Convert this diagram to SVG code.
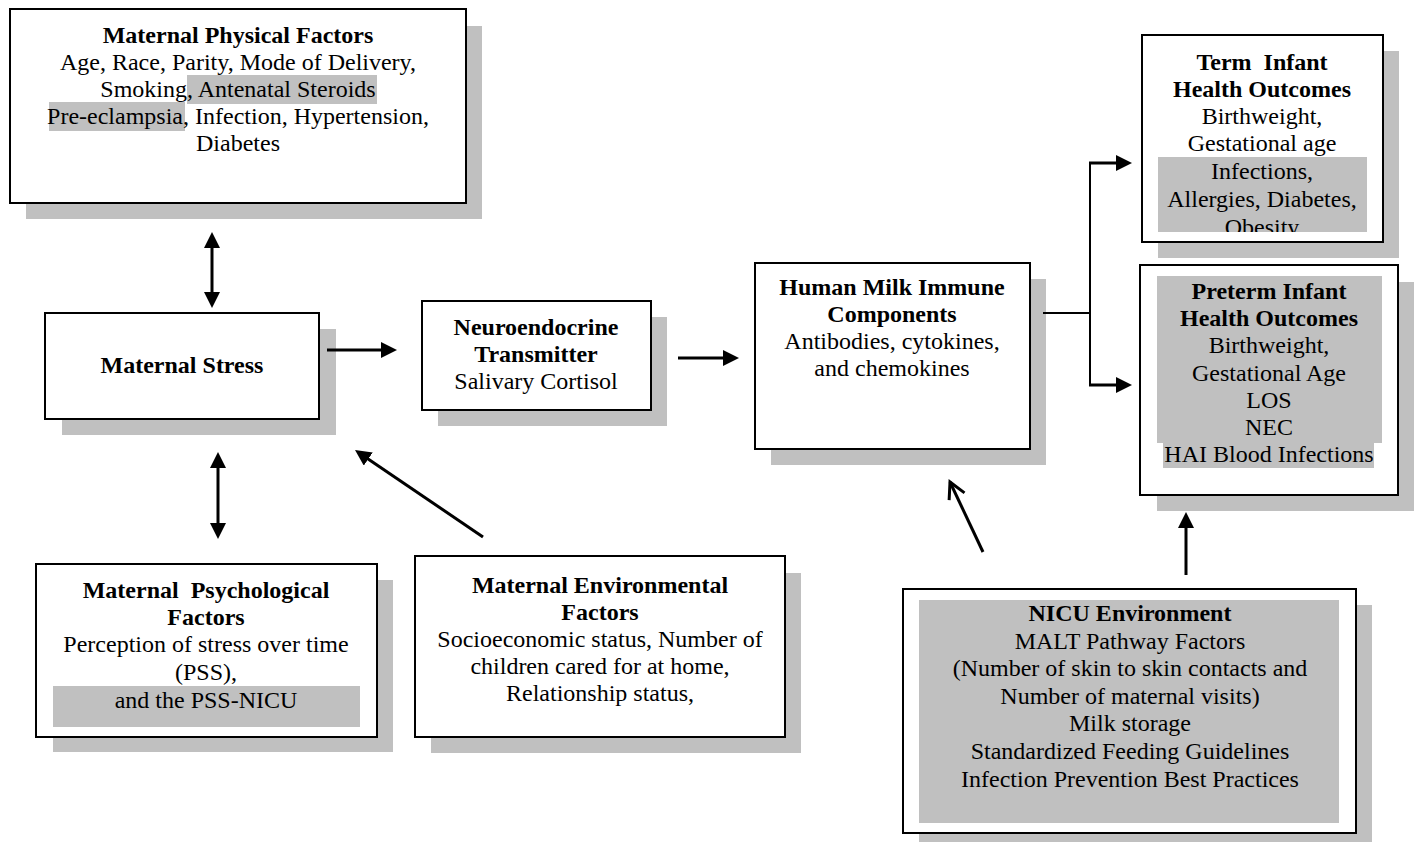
<svg xmlns="http://www.w3.org/2000/svg" width="1416" height="842" viewBox="0 0 1416 842">
  <style>
    .shadow { fill: #c0c0c0; }
    .box { fill: #ffffff; stroke: #000000; stroke-width: 2; }
    .hl { fill: #c0c0c0; }
    .t { font-family: "Liberation Serif", "Times New Roman", serif; font-size: 24px; text-anchor: middle; fill: #000000; white-space: pre; }
    .b { font-weight: bold; }
    .arrow { stroke: #000000; stroke-width: 3; fill: none; }
    .link { stroke: #000000; stroke-width: 2; fill: none; }
  </style>
  <defs>
    <marker id="head" viewBox="0 0 16 16" refX="10" refY="8" markerWidth="16" markerHeight="16" markerUnits="userSpaceOnUse" orient="auto-start-reverse">
      <path d="M0,0 L16,8 L0,16 z" fill="#000000"/>
    </marker>
    <marker id="open" viewBox="-20 -12 24 24" refX="0" refY="0" markerWidth="24" markerHeight="24" markerUnits="userSpaceOnUse" orient="auto">
      <path d="M-16,-8.5 L0,0 L-16,8.5" fill="none" stroke="#000000" stroke-width="3"/>
    </marker>
    <clipPath id="termClip">
      <rect x="1142" y="35" width="241" height="197"/>
    </clipPath>
  </defs>

  <!-- Maternal physical factors -->
  <g id="physical">
    <rect class="shadow" x="26" y="26" width="456" height="193"/>
    <rect class="box" x="10" y="9" width="456" height="194"/>
    <rect class="hl" x="187" y="75" width="190" height="29"/>
    <rect class="hl" x="49" y="102" width="136" height="29"/>
    <text class="t b" x="238" y="43">Maternal Physical Factors</text>
    <text class="t" x="238" y="70">Age, Race, Parity, Mode of Delivery,</text>
    <text class="t" x="238" y="97">Smoking, Antenatal Steroids</text>
    <text class="t" x="238" y="124">Pre-eclampsia, Infection, Hypertension,</text>
    <text class="t" x="238" y="151">Diabetes</text>
  </g>

  <!-- Maternal stress -->
  <g id="stress">
    <rect class="shadow" x="62" y="329" width="274" height="106"/>
    <rect class="box" x="45" y="313" width="274" height="106"/>
    <text class="t b" x="182" y="373">Maternal Stress</text>
  </g>

  <!-- Neuroendocrine transmitter -->
  <g id="neuroendocrine">
    <rect class="shadow" x="438" y="317" width="229" height="109"/>
    <rect class="box" x="422" y="301" width="229" height="109"/>
    <text class="t b" x="536" y="335">Neuroendocrine</text>
    <text class="t b" x="536" y="362">Transmitter</text>
    <text class="t" x="536" y="389">Salivary Cortisol</text>
  </g>

  <!-- Human milk immune components -->
  <g id="milk">
    <rect class="shadow" x="771" y="279" width="275" height="186"/>
    <rect class="box" x="755" y="263" width="275" height="186"/>
    <text class="t b" x="892" y="295">Human Milk Immune</text>
    <text class="t b" x="892" y="322">Components</text>
    <text class="t" x="892" y="349">Antibodies, cytokines,</text>
    <text class="t" x="892" y="376">and chemokines</text>
  </g>

  <!-- Term infant outcomes -->
  <g id="term">
    <rect class="shadow" x="1158" y="51" width="241" height="207"/>
    <rect class="box" x="1142" y="35" width="241" height="207"/>
    <rect class="hl" x="1158" y="157" width="209" height="75"/>
    <g clip-path="url(#termClip)">
      <text class="t b" x="1262" y="70">Term  Infant</text>
      <text class="t b" x="1262" y="97">Health Outcomes</text>
      <text class="t" x="1262" y="124">Birthweight,</text>
      <text class="t" x="1262" y="151">Gestational age</text>
      <text class="t" x="1262" y="179">Infections,</text>
      <text class="t" x="1262" y="207">Allergies, Diabetes,</text>
      <text class="t" x="1262" y="235">Obesity</text>
    </g>
  </g>

  <!-- Preterm infant outcomes -->
  <g id="preterm">
    <rect class="shadow" x="1157" y="282" width="257" height="229"/>
    <rect class="box" x="1140" y="265" width="258" height="230"/>
    <rect class="hl" x="1157" y="276" width="225" height="167"/>
    <rect class="hl" x="1163" y="443" width="211" height="25"/>
    <text class="t b" x="1269" y="299">Preterm Infant</text>
    <text class="t b" x="1269" y="326">Health Outcomes</text>
    <text class="t" x="1269" y="353">Birthweight,</text>
    <text class="t" x="1269" y="381">Gestational Age</text>
    <text class="t" x="1269" y="408">LOS</text>
    <text class="t" x="1269" y="435">NEC</text>
    <text class="t" x="1269" y="462">HAI Blood Infections</text>
  </g>

  <!-- Maternal psychological factors -->
  <g id="psychological">
    <rect class="shadow" x="53" y="580" width="340" height="172"/>
    <rect class="box" x="36" y="564" width="341" height="173"/>
    <rect class="hl" x="53" y="686" width="307" height="41"/>
    <text class="t b" x="206" y="598">Maternal  Psychological</text>
    <text class="t b" x="206" y="625">Factors</text>
    <text class="t" x="206" y="652">Perception of stress over time</text>
    <text class="t" x="206" y="680">(PSS),</text>
    <text class="t" x="206" y="708">and the PSS-NICU</text>
  </g>

  <!-- Maternal environmental factors -->
  <g id="environmental">
    <rect class="shadow" x="431" y="573" width="370" height="180"/>
    <rect class="box" x="415" y="556" width="370" height="181"/>
    <text class="t b" x="600" y="593">Maternal Environmental</text>
    <text class="t b" x="600" y="620">Factors</text>
    <text class="t" x="600" y="647">Socioeconomic status, Number of</text>
    <text class="t" x="600" y="674">children cared for at home,</text>
    <text class="t" x="600" y="701">Relationship status,</text>
  </g>

  <!-- NICU environment -->
  <g id="nicu">
    <rect class="shadow" x="919" y="605" width="453" height="250"/>
    <rect class="box" x="903" y="589" width="453" height="244"/>
    <rect class="hl" x="919" y="600" width="420" height="223"/>
    <text class="t b" x="1130" y="621">NICU Environment</text>
    <text class="t" x="1130" y="649">MALT Pathway Factors</text>
    <text class="t" x="1130" y="676">(Number of skin to skin contacts and</text>
    <text class="t" x="1130" y="704">Number of maternal visits)</text>
    <text class="t" x="1130" y="731">Milk storage</text>
    <text class="t" x="1130" y="759">Standardized Feeding Guidelines</text>
    <text class="t" x="1130" y="787">Infection Prevention Best Practices</text>
  </g>

  <!-- Connectors -->
  <g id="connectors">
    <line class="arrow" x1="212" y1="238" x2="212" y2="302" marker-start="url(#head)" marker-end="url(#head)"/>
    <line class="arrow" x1="218" y1="458" x2="218" y2="533" marker-start="url(#head)" marker-end="url(#head)"/>
    <line class="arrow" x1="327" y1="350" x2="391" y2="350" marker-end="url(#head)"/>
    <line class="arrow" x1="678" y1="358" x2="733" y2="358" marker-end="url(#head)"/>
    <line class="arrow" x1="483" y1="537" x2="360" y2="453.4" marker-end="url(#head)"/>
    <line class="arrow" x1="983" y1="552" x2="950" y2="482" marker-end="url(#open)"/>
    <line class="arrow" x1="1186" y1="575" x2="1186" y2="518" marker-end="url(#head)"/>
    <polyline class="link" points="1043,313 1090,313"/>
    <line class="link" x1="1090" y1="162" x2="1090" y2="386"/>
    <line class="arrow" x1="1089" y1="163" x2="1126" y2="163" marker-end="url(#head)"/>
    <line class="arrow" x1="1089" y1="385" x2="1126" y2="385" marker-end="url(#head)"/>
  </g>
</svg>
